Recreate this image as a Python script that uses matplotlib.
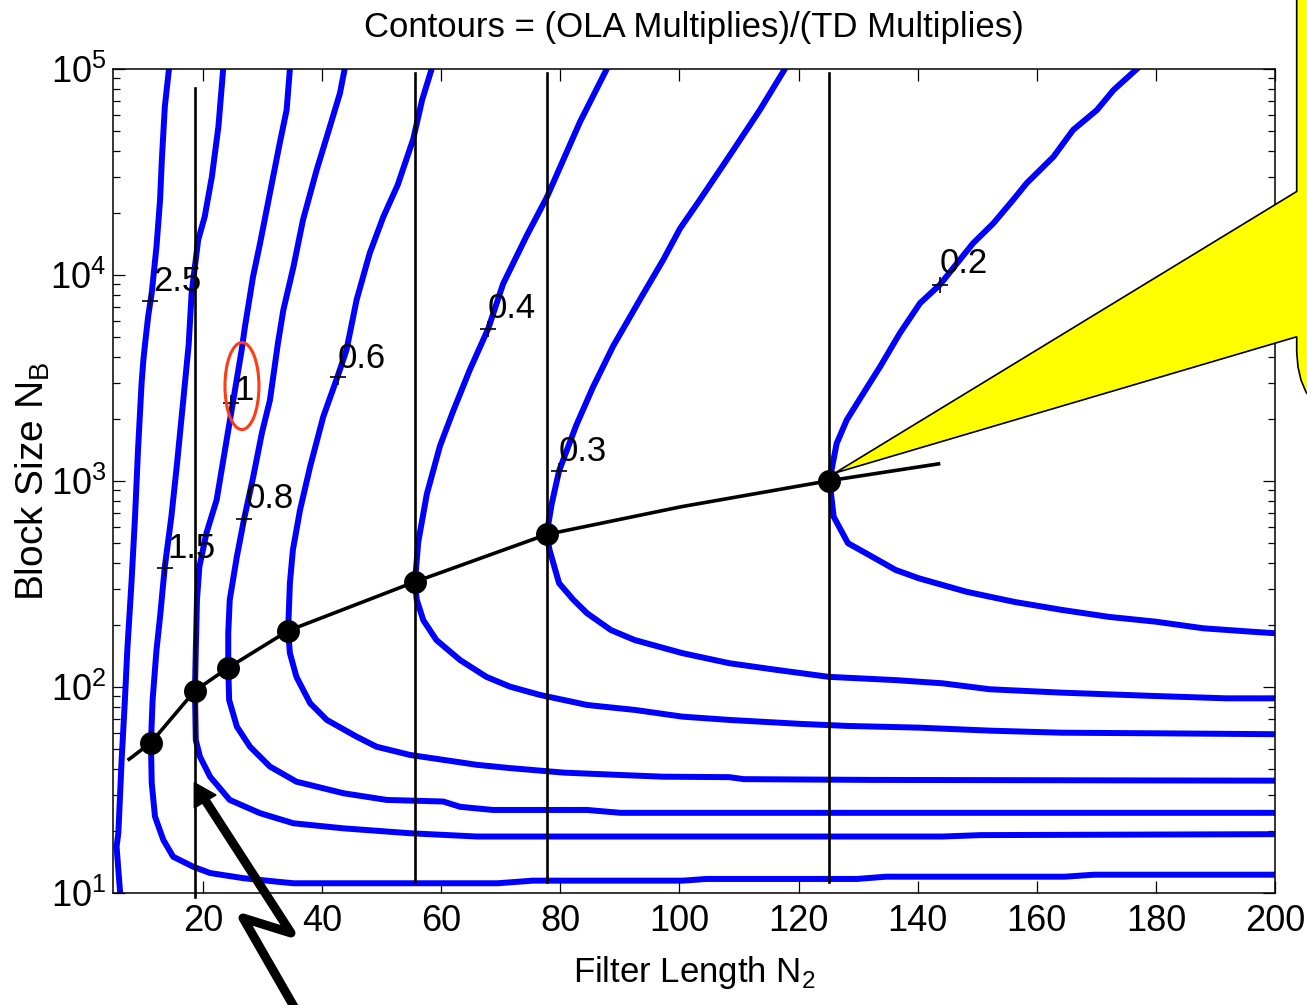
import matplotlib
matplotlib.use('Agg')
import matplotlib.pyplot as plt
from matplotlib.patches import Ellipse, Polygon
from matplotlib.lines import Line2D
from matplotlib.transforms import ScaledTranslation

plt.rcParams['font.family'] = ['Liberation Sans', 'DejaVu Sans']

W, H = 1307, 1005

# contour traces: filter length N2 vs block size NB
c25_n2 = [14.3, 13.6, 13.1, 12.8, 12.2, 11.4, 10.8, 10.3, 10.0, 9.7, 9.1, 8.6, 8.0,
          7.3, 6.9, 6.35, 5.8, 5.5, 6.1]
c25_nb = [100000, 65600, 36200, 23100, 13700, 8180, 6280, 4680, 3870, 2990, 1415, 671,
          320, 151, 86.5, 44.3, 19.6, 16.8, 10]

c15_n2 = [23.4, 22.6, 21.5, 20.3, 19.2, 18.1, 17.6, 16.7, 15.6, 14.7, 13.6, 12.8, 12.2,
          11.55, 11.27, 11.4, 11.95, 13.35, 15.0, 18.4, 21.2, 26.8, 32.4, 35.2, 69.5,
          75.4, 100.6, 104.5, 129.8, 134.7, 164.7, 169.6, 200]
c15_nb = [100000, 52500, 30000, 19200, 14800, 8150, 4570, 2470, 1175, 671, 384, 219, 151,
          86.5, 53.7, 34.2, 23.5, 18.1, 15.0, 13.4, 12.5, 11.8, 11.35, 11.15, 11.15,
          11.48, 11.48, 11.7, 11.7, 12.0, 12.0, 12.27, 12.27]

c10_n2 = [34.6, 34.05, 32.9, 31.25, 29.6, 28.4, 27.05, 26.5, 25.1, 23.7, 22.3, 20.6,
          19.4, 19.0, 18.8, 18.66, 18.8, 19.5, 21.2, 24.5, 29.6, 35.2, 43.6, 54.8, 66.0,
          144.2, 150.6, 200]
c10_nb = [100000, 63200, 43700, 25000, 14300, 9770, 5600, 4320, 2470, 1415, 809, 560,
          383, 265, 151, 96, 55.3, 45.9, 36.7, 28.3, 24.4, 21.8, 20.6, 19.5, 18.8,
          18.8, 19.1, 19.3]

c08_n2 = [43.8, 43.0, 40.8, 39.1, 36.8, 35.2, 33.5, 32.6, 31.25, 29.9, 28.45, 26.9,
          25.7, 24.5, 24.25, 24.25, 24.4, 25.7, 27.9, 31.25, 35.7, 43.6, 50.85, 60.35,
          63.2, 68.7, 84.5, 90.1, 200]
c08_nb = [100000, 76200, 46900, 32400, 18500, 10960, 6760, 4680, 2470, 1710, 1050, 652,
          430, 265, 183, 124, 86.5, 64.2, 51.3, 41.1, 34.7, 30.5, 28.3, 27.8, 26.2,
          25.3, 25.3, 24.5, 24.5]

c06_n2 = [58.4, 56.8, 55.3, 52.7, 50.3, 48.0, 45.8, 44.1, 42.6, 40.2, 38.0, 36.3, 35.1,
          34.6, 34.3, 34.6, 35.7, 38.0, 40.8, 45.8, 49.15, 54.75, 60.35, 66.0, 71.55,
          80.6, 90.1, 97.2, 108.4, 110.8, 132.3, 200]
c06_nb = [100000, 70700, 45600, 27350, 19200, 12750, 7570, 4320, 3210, 2050, 1175, 723,
          462, 319, 187.5, 146, 112, 83.4, 69.2, 57.4, 51.3, 46.8, 44.3, 41.9, 40.4,
          38.4, 37.4, 36.7, 36.5, 35.7, 35.4, 35.1]

c04_n2 = [87.8, 83.3, 80.5, 77.7, 74.35, 70.4, 67.9, 64.8, 62.0, 59.8, 57.6, 56.15,
          55.6, 55.9, 57.0, 59.2, 63.2, 67.6, 71.55, 76.6, 84.5, 92.5, 100.5, 108.4,
          120.4, 128.3, 140.2, 152.1, 164.1, 180.0, 200]
c04_nb = [100000, 55300, 36200, 23700, 15500, 9060, 5490, 3460, 2180, 1480, 866, 505,
          324, 265, 211, 169, 135, 112, 100.4, 91.5, 81.8, 77.4, 71.8, 69.2, 66.2, 64.7,
          63.5, 61.4, 60.0, 59.6, 59.0]

c03_n2 = [117.7, 113.5, 108.5, 103.4, 100.1, 97.3, 93.9, 88.9, 85.5, 82.7, 79.8, 78.55,
          77.7, 78.2, 79.8, 82.2, 84.5, 88.5, 92.5, 100.5, 108.4, 116.4, 125.1, 136.3,
          144.2, 152.1, 164.1, 180.0, 191.9, 200]
c03_nb = [100000, 63200, 38250, 23100, 16800, 11870, 8070, 4530, 2860, 1870, 1122, 772,
          550, 462, 319, 265, 228, 189, 169, 146, 130.4, 121, 112, 108, 104.2, 97.5,
          93.9, 90.4, 88.1, 88.1]

c02_n2 = [176.8, 172.9, 170.1, 166.1, 162.8, 158.3, 156.0, 152.7, 149.3, 143.7, 140.4,
          137.0, 133.7, 130.9, 128.1, 126.4, 125.2, 125.9, 128.3, 132.3, 136.3, 140.2,
          148.2, 156.2, 164.1, 172.1, 180.0, 188.0, 196.0, 200]
c02_nb = [100000, 79100, 63200, 50600, 37500, 27900, 23100, 17800, 14250, 8950, 7300,
          5210, 3590, 2670, 1980, 1520, 1004, 671, 499, 430, 370, 337, 290, 259, 237,
          219, 207.5, 192.7, 185.6, 182.4]

contours = [(c25_n2, c25_nb), (c15_n2, c15_nb), (c10_n2, c10_nb), (c08_n2, c08_nb),
            (c06_n2, c06_nb), (c04_n2, c04_nb), (c03_n2, c03_nb), (c02_n2, c02_nb)]

# contour labels: '+' marker and text anchor (left, baseline)
label_text = ['2.5', '1.5', '1', '0.8', '0.6', '0.4', '0.3', '0.2']
label_mark_n2 = [11.1, 13.62, 24.65, 26.88, 42.62, 67.9, 79.77, 143.74]
label_mark_nb = [7500, 380, 2400, 652, 3210, 5490, 1122, 8946]
label_text_n2 = [11.6, 13.95, 25.2, 27.22, 42.67, 67.85, 79.77, 143.74]
label_text_nb = [8360, 423, 2470, 740, 3540, 6180, 1250, 10170]

# optimum block size curve and the marked points on it
opt_n2 = [7.6, 11.27, 18.66, 24.25, 34.3, 55.6, 77.7, 100.4, 125.2, 143.5]
opt_nb = [44.6, 53.7, 96, 124, 187.5, 324, 550, 751, 1004, 1211]
dot_n2 = [11.27, 18.66, 24.25, 34.3, 55.6, 77.7, 125.2]
dot_nb = [53.7, 96, 124, 187.5, 324, 550, 1004]

# vertical guide lines
vline_n2 = [18.66, 55.6, 77.7, 125.2]
vline_top = [80900, 95600, 95600, 95600]
vline_bot = [9.57, 11.3, 11.3, 11.3]

# red ring around the "1" label
ring_n2, ring_nb = 26.55, 2890

fig = plt.figure(figsize=(W / 100, H / 100), dpi=100)
ax = fig.add_axes([113 / W, 1 - 893 / H, (1275 - 113) / W, (893 - 69) / H])

for n2, nb in contours:
    ax.plot(n2, nb, color='#0000ff', lw=4.3, solid_joinstyle='round', zorder=2)

for x, b, t in zip(vline_n2, vline_bot, vline_top):
    ax.plot([x, x], [b, t], color='k', lw=1.9, zorder=3, clip_on=False)

ax.plot(opt_n2, opt_nb, color='k', lw=2.6, zorder=4)
ax.plot(dot_n2, dot_nb, 'o', color='k', ms=15.5, zorder=5)

ax.plot(label_mark_n2, label_mark_nb, '+', color='k', ms=11, mew=1.2, zorder=6)
for s, x, y in zip(label_text, label_text_n2, label_text_nb):
    ax.text(x, y, s, fontsize=25, ha='left', va='baseline', zorder=7)

ax.set_yscale('log')
ax.set_xlim(4.9, 200)
ax.set_ylim(10, 1e5)
ax.set_xticks(range(20, 201, 20))
ax.tick_params(which='both', direction='in', top=True, right=True, width=0.9)
ax.tick_params(which='major', length=8.5, labelsize=26)
ax.tick_params(which='minor', length=5)
ax.tick_params(axis='x', pad=8)
ax.tick_params(axis='y', pad=5)
for sp in ax.spines.values():
    sp.set_linewidth(1.1)

ax.set_xlabel(r'Filter Length N$_\mathdefault{2}$', fontsize=25, labelpad=11)
ax.set_ylabel(r'Block Size N$_\mathdefault{B}$', fontsize=28, labelpad=-1)
ax.set_title('Contours = (OLA Multiplies)/(TD Multiplies)', fontsize=25, pad=23)

# red ellipse (size in inches, centred on a data point)
ring_tr = fig.dpi_scale_trans + ScaledTranslation(ring_n2, ring_nb, ax.transData)
fig.add_artist(Ellipse((0, 0), 0.34, 0.87, transform=ring_tr, fill=False,
                       ec='#ff3c14', lw=2.2, zorder=8))


def fpx(pts):
    return [(x / W, 1 - y / H) for x, y in pts]


# yellow callout coming in from the right edge
callout = [(835, 473), (1296.7, 191.5), (1296.7, -10), (1330, -10), (1330, 430),
           (1315, 405), (1306, 392), (1301, 380), (1298, 367), (1296.7, 352),
           (1296.7, 336.8)]
fig.add_artist(Polygon(fpx(callout), closed=True, fc='#ffff00', ec='k', lw=1.2,
                       transform=fig.transFigure, zorder=9))

# black zig-zag arrow pointing at the N2 = 19 line
shaft = fpx([(297, 1012), (243, 918), (291, 933), (207, 803)])
fig.add_artist(Line2D([p[0] for p in shaft], [p[1] for p in shaft], color='k', lw=6.5,
                      solid_joinstyle='round', transform=fig.transFigure, zorder=10))
fig.add_artist(Polygon(fpx([(194.3, 782.7), (216, 795), (194.3, 808)]), closed=True,
                       fc='k', ec='k', lw=1, transform=fig.transFigure, zorder=10))

fig.savefig('out.png', dpi=100)
